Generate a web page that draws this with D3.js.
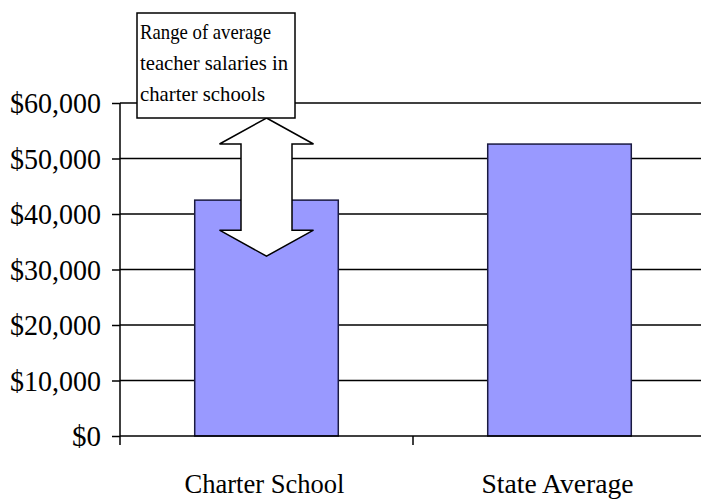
<!DOCTYPE html>
<html><head><meta charset="utf-8">
<script src="https://cdn.jsdelivr.net/npm/d3@7"></script>
<style>
html,body{margin:0;padding:0;background:#fff;}
svg{display:block;}
text{font-family:"Liberation Serif","Times New Roman",serif;fill:#000;}
</style></head>
<body><svg id="c" width="701" height="499"></svg>
<script>
const categories = ["Charter School", "State Average"];
const salaries = [42500, 52600];
const yTicks = [0, 10000, 20000, 30000, 40000, 50000, 60000];
const rangeArrow = [32400, 57300]; // low / high of the charter-school range arrow
const noteLines = ["Range of average", "teacher salaries in", "charter schools"];

const SERIF = '"Liberation Serif","Times New Roman",serif';
const svg = d3.select("#c");
const m = {left:120, right:-5, top:103, bottom:63};
const W = 701, H = 499;
const x = d3.scaleBand().domain(categories).range([m.left, W - m.right]).paddingInner(0.51).paddingOuter(0.255);
const xb = d3.scaleBand().domain(categories).range([m.left, W - m.right]);
const y = d3.scaleLinear().domain([0, 60000]).range([H - m.bottom, m.top]);

// gridlines
svg.append("g").selectAll("line").data(yTicks.filter(d=>d>0)).join("line")
  .attr("x1", m.left).attr("x2", W).attr("y1", d=>y(d)).attr("y2", d=>y(d))
  .attr("stroke", "#000").attr("stroke-width", 1.5);

// bars
svg.append("g").selectAll("rect").data(categories).join("rect")
  .attr("x", d=>x(d)).attr("width", x.bandwidth())
  .attr("y", (d,i)=>y(salaries[i])).attr("height", (d,i)=>y(0)-y(salaries[i]))
  .attr("fill", "#9999ff").attr("stroke", "#1a1a40").attr("stroke-width", 1.5);

// y axis
const ya = svg.append("g").attr("transform", `translate(${m.left},0)`)
  .call(d3.axisLeft(y).tickValues(yTicks).tickSize(8).tickPadding(11)
    .tickFormat(d => "$" + d3.format(",")(d)));
ya.select(".domain").remove();
ya.selectAll(".tick line").attr("stroke", "#000").attr("stroke-width", 1.5);
ya.selectAll(".tick text").style("font-family", SERIF).style("font-size", "29px").attr("dy", "0.33em")
  .each(function(d){ if (d > 0) d3.select(this).attr("textLength", 91).attr("lengthAdjust", "spacingAndGlyphs"); });
svg.append("line").attr("x1", m.left).attr("x2", m.left).attr("y1", y(60000)).attr("y2", y(0)+9)
  .attr("stroke", "#000").attr("stroke-width", 1.5);

// x axis
svg.append("line").attr("x1", m.left).attr("x2", W).attr("y1", y(0)).attr("y2", y(0))
  .attr("stroke", "#000").attr("stroke-width", 1.5);
svg.append("g").selectAll("line").data(categories.slice(1)).join("line")
  .attr("x1", d=>xb(d)).attr("x2", d=>xb(d)).attr("y1", y(0)).attr("y2", y(0)+9)
  .attr("stroke", "#000").attr("stroke-width", 1.5);
svg.append("g").selectAll("text").data(categories).join("text")
  .attr("x", d=>x(d) + x.bandwidth()/2 - 2).attr("y", 493)
  .attr("text-anchor", "middle").style("font-family", SERIF).style("font-size", "27px")
  .attr("textLength", (d,i)=>[160,152][i]).attr("lengthAdjust", "spacingAndGlyphs")
  .text(d=>d);

// double arrow
const cx = x(categories[0]) + x.bandwidth()/2;
const yt = y(rangeArrow[1]), yb = y(rangeArrow[0]);
const headH = 26, headW = 47, shaftW = 25.5;
const pts = [
  [cx, yt], [cx+headW, yt+headH], [cx+shaftW, yt+headH], [cx+shaftW, yb-headH],
  [cx+headW, yb-headH], [cx, yb], [cx-headW, yb-headH], [cx-shaftW, yb-headH],
  [cx-shaftW, yt+headH], [cx-headW, yt+headH]
];
svg.append("path").attr("d", d3.line()(pts) + "Z")
  .attr("fill", "#fff").attr("stroke", "#000").attr("stroke-width", 1.5);

// annotation box
const bx = 137, by = 13, bw = 158, bh = 105;
svg.append("rect").attr("x", bx).attr("y", by).attr("width", bw).attr("height", bh)
  .attr("fill", "#fff").attr("stroke", "#000").attr("stroke-width", 1.5);
svg.append("g").selectAll("text").data(noteLines).join("text")
  .attr("x", bx + 3).attr("y", (d,i)=>by + 26 + i*31)
  .style("font-family", SERIF).style("font-size", "21px")
  .attr("textLength", (d,i)=>[131,148,125][i]).attr("lengthAdjust","spacingAndGlyphs")
  .text(d=>d);
</script></body></html>
